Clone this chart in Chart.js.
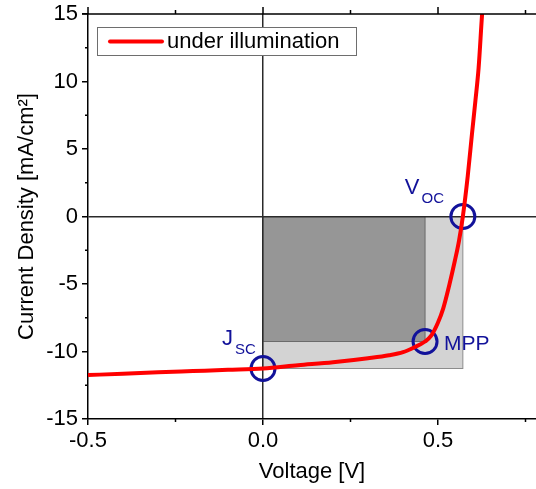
<!DOCTYPE html>
<html>
<head>
<meta charset="utf-8">
<script src="https://cdn.jsdelivr.net/npm/chart.js@4.4.1/dist/chart.umd.min.js"></script>
<style>
  html, body { margin: 0; padding: 0; background: #fff; }
</style>
</head>
<body>
<canvas id="jv" width="536" height="489"></canvas>
<script>
// J-V curve under illumination
const voltage = [-0.5, -0.4, -0.3, -0.2, -0.1, 0, 0.1, 0.2, 0.3, 0.36, 0.4, 0.43, 0.463,
                 0.48, 0.5, 0.515, 0.533, 0.548, 0.56, 0.571, 0.585, 0.597, 0.607, 0.616, 0.626, 0.635];
const currentDensity = [-11.75, -11.64, -11.54, -11.45, -11.36, -11.26, -11.02, -10.8, -10.5, -10.28, -10.05, -9.72, -9.26,
                        -8.85, -7.85, -6.8, -5.0, -3.3, -1.8, 0, 3.0, 6.1, 8.6, 11.0, 15.0, 18.0];

// characteristic points: Voc, Jsc, MPP
const markerV = [0.571, 0, 0.463];
const markerJ = [0, -11.26, -9.26];
const markerName = ['V', 'J', 'MPP'];
const markerSub = ['OC', 'SC', ''];

const xMajor = [-0.5, 0, 0.5];
const xMinor = [-0.25, 0.25, 0.75];
const yMinor = [-12.5, -7.5, -2.5, 2.5, 7.5, 12.5];

const FONT = "'Liberation Sans', Arial, sans-serif";
const BLUE = '#12129a';

Chart.defaults.font.family = FONT;
Chart.defaults.font.size = 22;
Chart.defaults.color = '#000';

// power rectangles Voc*Jsc and Vmpp*Jmpp, behind the grid
const rectPlugin = {
  id: 'rects',
  beforeDraw(chart) {
    const { ctx, scales: { x, y } } = chart;
    const x0 = x.getPixelForValue(0), y0 = y.getPixelForValue(0);
    ctx.save();
    let r = [x.getPixelForValue(markerV[0]), y.getPixelForValue(markerJ[1])];
    ctx.fillStyle = '#d3d3d3';
    ctx.strokeStyle = '#8c8c8c';
    ctx.lineWidth = 1;
    ctx.fillRect(x0, y0, r[0] - x0, r[1] - y0);
    ctx.strokeRect(x0, y0, r[0] - x0, r[1] - y0);
    r = [x.getPixelForValue(markerV[2]), y.getPixelForValue(markerJ[2])];
    ctx.fillStyle = '#969696';
    ctx.strokeStyle = '#6a6a6a';
    ctx.fillRect(x0, y0, r[0] - x0, r[1] - y0);
    ctx.strokeRect(x0, y0, r[0] - x0, r[1] - y0);
    ctx.restore();
  }
};

// minor ticks, top frame line and top ticks
const framePlugin = {
  id: 'frame',
  afterDraw(chart) {
    const { ctx, chartArea: a, scales: { x, y } } = chart;
    ctx.save();
    ctx.strokeStyle = '#000';
    ctx.lineWidth = 1.5;
    ctx.beginPath();
    ctx.moveTo(a.left - 6, a.top);
    ctx.lineTo(a.right, a.top);
    yMinor.forEach(v => {
      const py = y.getPixelForValue(v);
      ctx.moveTo(a.left - 3, py); ctx.lineTo(a.left, py);
    });
    xMinor.forEach(v => {
      const px = x.getPixelForValue(v);
      ctx.moveTo(px, a.bottom); ctx.lineTo(px, a.bottom + 3);
      ctx.moveTo(px, a.top); ctx.lineTo(px, a.top - 4);
    });
    xMajor.forEach(v => {
      const px = x.getPixelForValue(v);
      ctx.moveTo(px, a.top); ctx.lineTo(px, a.top - 7);
    });
    ctx.stroke();
    ctx.restore();
  }
};

// labels next to the marked points
const labelPlugin = {
  id: 'pointLabels',
  afterDatasetsDraw(chart) {
    const { ctx, scales: { x, y } } = chart;
    const offs = [[-58, -23], [-41, -24], [19, 8]];
    ctx.save();
    ctx.fillStyle = BLUE;
    ctx.textBaseline = 'alphabetic';
    markerName.forEach((name, i) => {
      const px = x.getPixelForValue(markerV[i]) + offs[i][0];
      const py = y.getPixelForValue(markerJ[i]) + offs[i][1];
      ctx.font = (markerSub[i] ? 22 : 21) + 'px ' + FONT;
      ctx.fillText(name, px, py);
      if (markerSub[i]) {
        const w = ctx.measureText(name).width;
        ctx.font = '15px ' + FONT;
        ctx.fillText(markerSub[i], px + w + 2, py + 9);
      }
    });
    ctx.restore();
  }
};

// boxed legend inside the plot
const legendPlugin = {
  id: 'boxLegend',
  afterDraw(chart) {
    const { ctx } = chart;
    const ds = chart.data.datasets.find(d => d.label);
    ctx.save();
    ctx.fillStyle = '#fff';
    ctx.fillRect(97, 27, 259, 28);
    ctx.strokeStyle = '#6e6e6e';
    ctx.lineWidth = 1;
    ctx.strokeRect(97.5, 27.5, 259, 28);
    ctx.strokeStyle = ds.borderColor;
    ctx.lineWidth = 4;
    ctx.lineCap = 'round';
    ctx.beginPath();
    ctx.moveTo(110, 41.5);
    ctx.lineTo(162, 41.5);
    ctx.stroke();
    ctx.fillStyle = '#000';
    ctx.font = '22px ' + FONT;
    ctx.textBaseline = 'middle';
    ctx.fillText(ds.label, 167, 42);
    ctx.restore();
  }
};

const zeroLine = (ctx) => (ctx.tick && Math.abs(ctx.tick.value) < 1e-9) ? '#2a2a2a' : 'rgba(0,0,0,0)';

new Chart(document.getElementById('jv'), {
  type: 'line',
  data: {
    datasets: [
      {
        label: 'under illumination',
        data: voltage.map((v, i) => ({ x: v, y: currentDensity[i] })),
        borderColor: '#ff0000',
        borderWidth: 4,
        pointRadius: 0,
        cubicInterpolationMode: 'monotone',
        fill: false,
        order: 0
      },
      {
        type: 'scatter',
        data: markerV.map((v, i) => ({ x: v, y: markerJ[i] })),
        pointRadius: 12,
        pointBorderWidth: 3,
        borderColor: BLUE,
        backgroundColor: 'rgba(0,0,0,0)',
        showLine: false,
        order: 1
      }
    ]
  },
  options: {
    responsive: false,
    animation: false,
    devicePixelRatio: 1,
    layout: { autoPadding: false, padding: { top: 14, right: 0, left: 0, bottom: 0 } },
    plugins: { legend: { display: false }, tooltip: { enabled: false } },
    scales: {
      x: {
        type: 'linear',
        min: -0.5,
        max: 0.78,
        afterFit: s => { s.height = 70; s.paddingLeft = 0; s.paddingRight = 0; },
        ticks: { stepSize: 0.5, includeBounds: false, padding: 3, maxRotation: 0,
                  callback: v => v === 0 ? '0.0' : v.toFixed(1) },
        grid: { color: zeroLine, lineWidth: 1.5, tickColor: '#000', tickLength: 6, tickWidth: 1.5 },
        border: { display: true, color: '#000', width: 1.5 },
        title: { display: true, text: 'Voltage [V]', padding: { top: 0, bottom: 4 } }
      },
      y: {
        type: 'linear',
        min: -15,
        max: 15,
        afterFit: s => { s.width = 88; s.paddingTop = 0; s.paddingBottom = 0; },
        ticks: { stepSize: 5, padding: 4 },
        grid: { color: zeroLine, lineWidth: 1.5, tickColor: '#000', tickLength: 6, tickWidth: 1.5 },
        border: { display: true, color: '#000', width: 1.5 },
        title: { display: true, text: 'Current Density [mA/cm²]', padding: { top: 14, bottom: 0 } }
      }
    }
  },
  plugins: [rectPlugin, framePlugin, labelPlugin, legendPlugin]
});
</script>
</body>
</html>
